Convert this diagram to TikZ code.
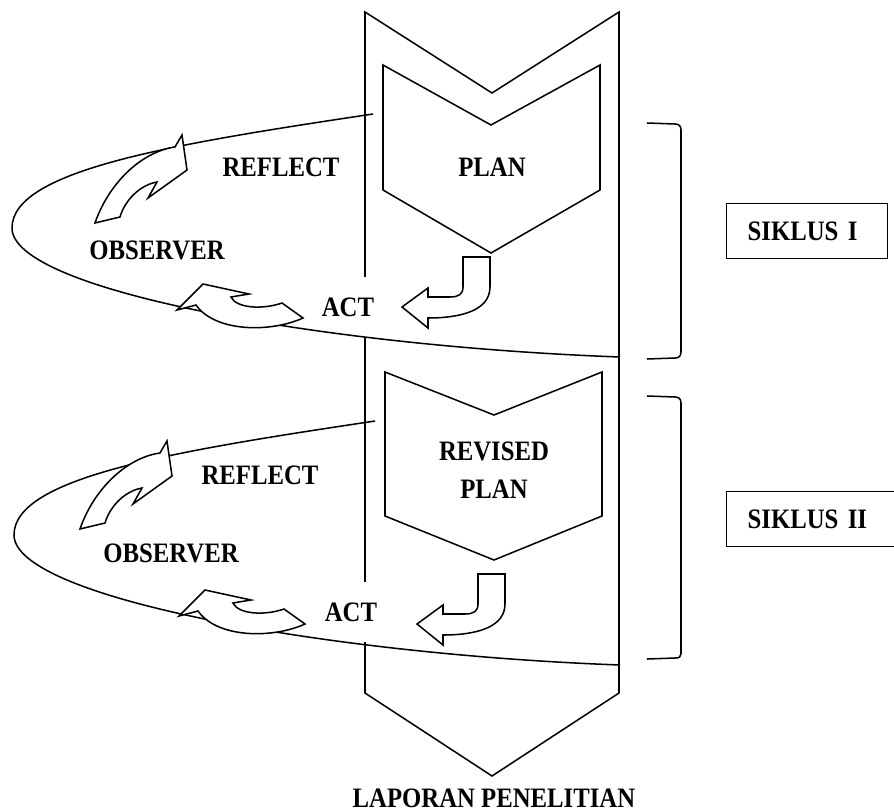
\documentclass[tikz,border=0pt]{standalone}
\usepackage{fontspec}
\setmainfont{Liberation Serif}[FakeStretch = 0.88]
\usetikzlibrary{arrows}

\begin{document}
\begin{tikzpicture}[x = 0.03cm, y = -0.03cm, font = \fontsize{24}{32}\selectfont\bfseries]
	\tikzstyle{lineStyle} = [line width = 1.3pt, line join = miter]
	\tikzstyle{blockArrowStyle} = [line width = 1.3pt, line join = miter, fill = white]
	\tikzstyle{labelStyle} = [inner sep = 2pt]
	\tikzstyle{actStyle} = [inner sep = 2pt, fill = white, minimum height = 1.8cm]
	\tikzstyle{siklusStyle} = [draw, line width = 1.1pt, anchor = west, align = left, inner xsep = 0.63cm, minimum height = 1.65cm]
	\useasboundingbox (0,0) rectangle (894,812);
	\draw[lineStyle] (365,12) -- (492,93) -- (619,12) -- (619,693) -- (492,776) -- (365,693) -- cycle;
	\draw[lineStyle] (383,65) -- (491,125) -- (600,65) -- (600,190) -- (491,253) -- (383,190) -- cycle;
	\draw[lineStyle] (385,372) -- (494,415) -- (602,372) -- (602,516) -- (494,560) -- (385,516) -- cycle;
	\node[actStyle] (actOne) at (348,307) {ACT};
	\node[actStyle] (actTwo) at (351,612) {ACT};
	\draw[lineStyle] (373,114) .. controls (173,144) and (12,170) .. (12,228) .. controls (12,290) and (320,346) .. (620,357);
	\draw[lineStyle] (375,421) .. controls (175,451) and (14,477) .. (14,535) .. controls (14,597) and (322,654) .. (620,665);
	\draw[lineStyle] (647,123) -- (675,124) .. controls (679,124) and (681,126) .. (681,130) -- (681,352) .. controls (681,356) and (679,358) .. (675,358) -- (647,359);
	\draw[lineStyle] (647,396) -- (675,397) .. controls (679,397) and (681,399) .. (681,403) -- (681,654) .. controls (681,657) and (679,658) .. (675,658) -- (647,659);
	\draw[blockArrowStyle] (463,257) -- (490,257) -- (490,287) .. controls (490,310) and (462,318) .. (428,318) -- (428,328) -- (402,307) -- (428,288) -- (428,297) -- (450,297) .. controls (459,297) and (463,294) .. (463,287) -- cycle;
	\draw[blockArrowStyle] (478,574) -- (505,574) -- (505,604) .. controls (505,627) and (477,635) .. (443,635) -- (443,645) -- (417,624) -- (443,605) -- (443,614) -- (465,614) .. controls (474,614) and (478,611) .. (478,604) -- cycle;
	\draw[blockArrowStyle] (203,284) -- (249,294) -- (231,297) .. controls (236,308) and (262,310) .. (282,303) -- (303,318) .. controls (270,333) and (215,332) .. (196,305) -- (177,310) -- cycle;
	\draw[blockArrowStyle] (205,590) -- (251,600) -- (233,603) .. controls (238,614) and (264,616) .. (284,609) -- (305,624) .. controls (272,639) and (217,638) .. (198,611) -- (179,616) -- cycle;
	\draw[blockArrowStyle] (95,223) .. controls (108,185) and (140,152) .. (175,147) -- (182,135) -- (187,170) -- (148,198) -- (157,182) .. controls (140,185) and (125,200) .. (120,217) -- cycle;
	\draw[blockArrowStyle] (80,529) .. controls (93,491) and (125,458) .. (160,453) -- (167,441) -- (172,476) -- (133,504) -- (142,488) .. controls (125,491) and (110,506) .. (105,523) -- cycle;
	\node[labelStyle] (plan) at (492,167) {PLAN};
	\node[labelStyle] (reflectOne) at (281,167) {REFLECT};
	\node[labelStyle] (observerOne) at (157,250) {OBSERVER};
	\node[labelStyle, align = center] (revisedPlan) at (494,470) {REVISED\\PLAN};
	\node[labelStyle] (reflectTwo) at (260,475) {REFLECT};
	\node[labelStyle] (observerTwo) at (171,553) {OBSERVER};
	\node[siklusStyle, text width = 3.57cm] (siklusOne) at (726,231) {SIKLUS I};
	\node[siklusStyle, text width = 4.3cm] (siklusTwo) at (726,519) {SIKLUS II};
	\node[labelStyle] (laporan) at (494,798) {LAPORAN PENELITIAN};
\end{tikzpicture}
\end{document}
